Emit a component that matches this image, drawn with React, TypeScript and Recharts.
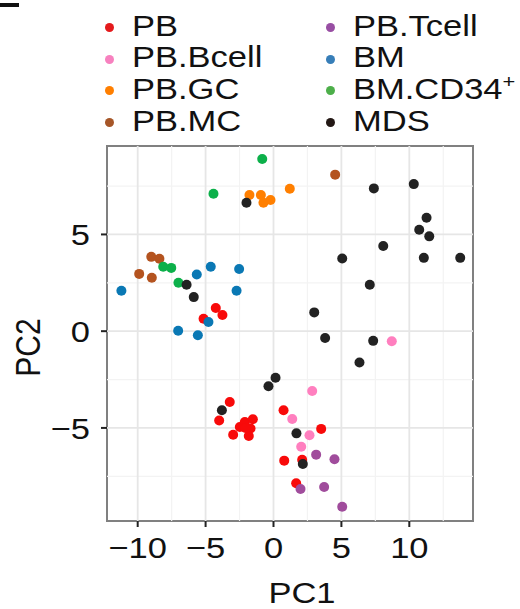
import React from 'react';
import { ScatterChart, Scatter, XAxis, YAxis, ReferenceLine, ReferenceArea } from 'recharts';

// PCA coordinates, one list per sample group
const pb = [
  [-4.25, 1.2], [-3.76, 0.84], [-5.15, 0.64],
  [-3.22, -3.66], [-4.0, -4.62], [-2.97, -5.35], [-2.48, -4.95], [-2.11, -4.69],
  [-1.52, -4.55], [-1.69, -5.03], [-1.82, -5.42], [-2.06, -5.0],
  [0.74, -4.09], [3.51, -5.05], [0.79, -6.69], [2.11, -6.64], [1.67, -7.86],
];
const pbBcell = [[8.71, -0.52], [2.85, -3.09], [1.38, -4.54], [2.65, -5.38], [2.04, -5.97]];
const pbGC = [[-1.77, 7.04], [-0.93, 7.04], [-0.74, 6.64], [-0.22, 6.78], [1.2, 7.36]];
const pbMC = [[4.54, 8.09], [-9.0, 3.84], [-8.4, 3.74], [-9.89, 2.96], [-8.96, 2.76]];
const pbTcell = [[3.14, -6.38], [4.49, -6.62], [1.99, -8.16], [3.73, -8.05], [5.06, -9.07]];
const bm = [
  [-11.2, 2.09], [-5.65, 2.93], [-4.62, 3.33], [-2.53, 3.21],
  [-2.72, 2.09], [-4.79, 0.47], [-7.02, 0.02], [-5.57, -0.21],
];
const bmCD34 = [[-0.83, 8.9], [-4.42, 7.1], [-8.12, 3.33], [-7.53, 3.27], [-7.0, 2.5]];
const mds = [
  [-1.99, 6.64], [-6.4, 2.4], [-5.87, 1.76], [7.39, 7.38], [10.33, 7.6], [11.27, 5.86],
  [10.73, 5.24], [11.47, 4.9], [8.08, 4.4], [5.06, 3.76], [11.07, 3.79], [13.75, 3.79],
  [7.09, 2.4], [3.0, 0.97], [3.8, -0.35], [7.34, -0.5], [6.33, -1.62], [0.15, -2.41],
  [-0.37, -2.85], [1.69, -5.28], [2.16, -6.86], [-3.8, -4.09],
];

const groupNames = ['PB', 'PB.Bcell', 'PB.GC', 'PB.MC', 'PB.Tcell', 'BM', 'BM.CD34+', 'MDS'];
const groupPoints = [pb, pbBcell, pbGC, pbMC, pbTcell, bm, bmCD34, mds];
const pointColors = ['#f80a0a', '#ff7fbf', '#ff7f00', '#b4531f', '#a04c9c', '#0a78b4', '#0cb04a', '#222222'];
const legendColors = ['#e41a1c', '#f781bf', '#ff7f00', '#a65628', '#984ea3', '#377eb8', '#4daf4a', '#231815'];
// legend is laid out column-wise: first 4 on the left, last 4 on the right
const legendOrder = [0, 4, 1, 5, 2, 6, 3, 7];

const xTicks = [-10, -5, 0, 5, 10];
const yTicks = [-5, 0, 5];
const xMinor = [-7.5, -2.5, 2.5, 7.5, 12.5];
const yMinor = [-7.5, -2.5, 2.5, 7.5];
const xDomain = [-12.26, 14.69];
const yDomain = [-9.81, 9.57];

const FONT = '"Liberation Sans", Arial, Helvetica, sans-serif';
const FS = 30;
const STRETCH = 1.15; // the source figure's text is a bit wider than plain Arial
const W = 520;
const H = 609;
const M = { top: 146, right: 47, bottom: 0, left: 0 };
const Y_AXIS_W = 107;
const X_AXIS_H = 88;

const fmt = (v: number) => (v < 0 ? `\u2212${Math.abs(v)}` : String(v));

function WideText({ x, y, anchor, dy, children, rotate = 0 }: any) {
  const tf = rotate
    ? `translate(${x},${y}) rotate(${rotate}) scale(1,${STRETCH})`
    : `translate(${x},${y}) scale(${STRETCH},1)`;
  return (
    <g transform={tf}>
      <text x={0} y={0} dy={dy} textAnchor={anchor} fontSize={FS} fontFamily={FONT} fill="#111">
        {children}
      </text>
    </g>
  );
}

const XTick = (p: any) => (
  <WideText x={p.x} y={p.y} anchor="middle" dy="0.71em">
    {fmt(p.payload.value)}
  </WideText>
);

const YTick = (p: any) => (
  <WideText x={p.x} y={p.y} anchor="end" dy="0.355em">
    {fmt(p.payload.value)}
  </WideText>
);

function LegendLabel({ name }: { name: string }) {
  const plus = name.endsWith('+');
  return (
    <span style={{ display: 'inline-block', transform: `scaleX(${STRETCH})`, transformOrigin: 'left center' }}>
      {plus ? name.slice(0, -1) : name}
      {plus && <sup style={{ fontSize: 19, lineHeight: 0, verticalAlign: 'super' }}>+</sup>}
    </span>
  );
}

export default function App() {
  const plotBottom = H - X_AXIS_H;
  const plotMidX = Y_AXIS_W + (W - M.right - Y_AXIS_W) / 2;
  const plotMidY = M.top + (plotBottom - M.top) / 2;

  return (
    <div style={{ position: 'absolute', left: 0, top: 0, width: W, height: H, fontFamily: FONT, background: '#fff' }}>
      <div style={{ position: 'absolute', left: 0, top: 3, width: 19, height: 4, background: '#111' }} />
      <div
        style={{
          position: 'absolute',
          left: 104.5,
          top: 9.8,
          display: 'grid',
          gridTemplateColumns: '221px auto',
          gridAutoRows: '31.6px',
          fontSize: FS,
          lineHeight: '31.6px',
          color: '#111',
        }}
      >
        {legendOrder.map((i) => (
          <div key={groupNames[i]} style={{ display: 'flex', alignItems: 'center', whiteSpace: 'nowrap' }}>
            <span
              style={{
                display: 'inline-block',
                width: 9,
                height: 9,
                borderRadius: '50%',
                background: legendColors[i],
                marginTop: 4,
                marginRight: 18.5,
              }}
            />
            <LegendLabel name={groupNames[i]} />
          </div>
        ))}
      </div>

      <ScatterChart width={W} height={H} margin={M} style={{ position: 'absolute', left: 0, top: 0 }}>
        <XAxis
          type="number"
          dataKey="x"
          domain={xDomain}
          ticks={xTicks}
          height={X_AXIS_H}
          axisLine={false}
          tickSize={6}
          tickMargin={10}
          tickLine={{ stroke: '#222', strokeWidth: 2 }}
          tick={<XTick />}
          label={() => (
            <WideText x={plotMidX + 12} y={603} anchor="middle">
              PC1
            </WideText>
          )}
        />
        <YAxis
          type="number"
          dataKey="y"
          domain={yDomain}
          ticks={yTicks}
          width={Y_AXIS_W}
          axisLine={false}
          tickSize={6}
          tickMargin={11}
          tickLine={{ stroke: '#222', strokeWidth: 2 }}
          tick={<YTick />}
          label={() => (
            <WideText x={28} y={plotMidY + 14} anchor="middle" dy="0.355em" rotate={-90}>
              PC2
            </WideText>
          )}
        />
        {xMinor.map((v) => (
          <ReferenceLine key={`xm${v}`} x={v} stroke="#f3f3f3" strokeWidth={1.2} />
        ))}
        {yMinor.map((v) => (
          <ReferenceLine key={`ym${v}`} y={v} stroke="#f3f3f3" strokeWidth={1.2} />
        ))}
        {xTicks.map((v) => (
          <ReferenceLine key={`xM${v}`} x={v} stroke="#e6e6e6" strokeWidth={1.8} />
        ))}
        {yTicks.map((v) => (
          <ReferenceLine key={`yM${v}`} y={v} stroke="#e6e6e6" strokeWidth={1.8} />
        ))}
        <ReferenceArea
          x1={xDomain[0]}
          x2={xDomain[1]}
          y1={yDomain[0]}
          y2={yDomain[1]}
          fill="none"
          fillOpacity={0}
          stroke="#808080"
          strokeWidth={2}
        />
        {groupPoints.map((pts, gi) => (
          <Scatter
            key={groupNames[gi]}
            name={groupNames[gi]}
            data={pts.map(([x, y]) => ({ x, y }))}
            isAnimationActive={false}
            shape={(p: any) => <circle cx={p.cx} cy={p.cy} r={5} fill={pointColors[gi]} />}
          />
        ))}
      </ScatterChart>
    </div>
  );
}
